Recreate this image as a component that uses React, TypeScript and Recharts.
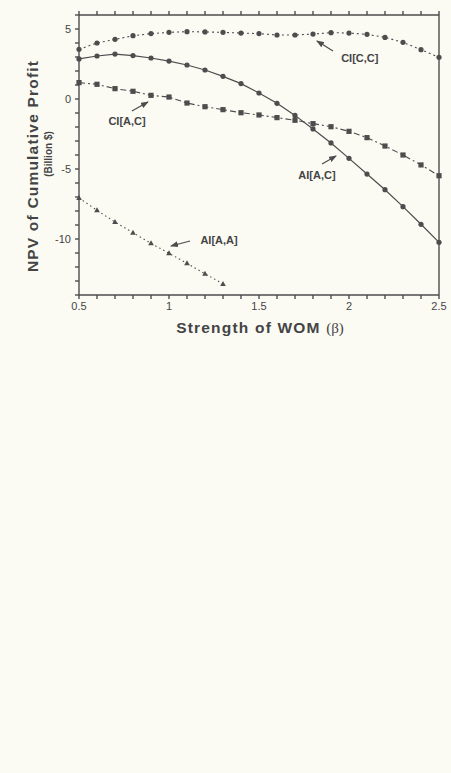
import {
  LineChart,
  Line,
  XAxis,
  YAxis,
  ReferenceLine,
  ReferenceDot,
} from 'recharts';

const beta = [0.5, 0.6, 0.7, 0.8, 0.9, 1.0, 1.1, 1.2, 1.3, 1.4, 1.5, 1.6, 1.7, 1.8, 1.9, 2.0, 2.1, 2.2, 2.3, 2.4, 2.5];
const ciCC = [3.55, 4.0, 4.26, 4.52, 4.67, 4.76, 4.81, 4.79, 4.76, 4.71, 4.67, 4.57, 4.57, 4.64, 4.74, 4.71, 4.62, 4.4, 4.05, 3.52, 2.98];
const aiAC = [2.86, 3.07, 3.21, 3.1, 2.93, 2.71, 2.43, 2.07, 1.62, 1.1, 0.43, -0.31, -1.17, -2.14, -3.14, -4.24, -5.36, -6.48, -7.69, -8.95, -10.24];
const ciAC = [1.17, 1.05, 0.74, 0.55, 0.26, 0.14, -0.29, -0.55, -0.76, -0.98, -1.14, -1.33, -1.52, -1.76, -1.98, -2.31, -2.76, -3.36, -4.0, -4.71, -5.48];
const aiAA = [-7.07, -7.95, -8.79, -9.55, -10.31, -11.02, -11.74, -12.48, -13.21];

const xTicks = beta;
const xLabels: Record<string, string> = { '0.5': '0.5', '1': '1', '1.5': '1.5', '2': '2', '2.5': '2.5' };
const yTicks = [-14, -13, -12, -11, -10, -9, -8, -7, -6, -5, -4, -3, -2, -1, 0, 1, 2, 3, 4, 5, 6];
const yLabels = [-10, -5, 0, 5];

// annotation text + arrow (tail -> head), in data units
const notes = [
  { text: 'CI[C,C]', x: 2.06, y: 2.93, from: [1.911, 3.43], to: [1.822, 4.14] },
  { text: 'CI[A,C]', x: 0.767, y: -1.57, from: [0.794, -0.86], to: [0.883, -0.21] },
  { text: 'AI[A,C]', x: 1.822, y: -5.43, from: [1.85, -4.64], to: [1.928, -4.07] },
  { text: 'AI[A,A]', x: 1.278, y: -10.07, from: [1.117, -10.14], to: [1.011, -10.5] },
];

const data = beta.map((b, i) => ({
  beta: b,
  ciCC: ciCC[i],
  aiAC: aiAC[i],
  ciAC: ciAC[i],
  aiAA: aiAA[i],
}));

const INK = '#4d4d4d';
const FONT = '"Liberation Sans", Arial, sans-serif';

const circleDot = (p: any) =>
  p.cy == null ? <g key={p.index} /> : <circle key={p.index} cx={p.cx} cy={p.cy} r={2.6} fill={INK} />;
const squareDot = (p: any) =>
  p.cy == null ? <g key={p.index} /> : <rect key={p.index} x={p.cx - 2.6} y={p.cy - 2.6} width={5.2} height={5.2} fill={INK} />;
const triDot = (p: any) =>
  p.cy == null ? (
    <g key={p.index} />
  ) : (
    <polygon key={p.index} points={`${p.cx},${p.cy - 3} ${p.cx - 2.8},${p.cy + 2} ${p.cx + 2.8},${p.cy + 2}`} fill={INK} />
  );

const arrowShape = (p: any) => (
  <line x1={p.x1} y1={p.y1} x2={p.x2} y2={p.y2} stroke={INK} strokeWidth={1.2} markerEnd="url(#arrowHead)" />
);

export default function App() {
  return (
    <div style={{ position: 'absolute', left: 0, top: 0, width: 451, height: 773, background: '#fbfbf4' }}>
      <LineChart width={451} height={773} data={data} margin={{ top: 10, right: 0, bottom: 448, left: 49 }}>
        <defs>
          <marker id="arrowHead" markerWidth="8" markerHeight="6" refX="7" refY="3" orient="auto" markerUnits="userSpaceOnUse">
            <path d="M0,0 L8,3 L0,6 z" fill={INK} />
          </marker>
        </defs>
        <XAxis
          dataKey="beta"
          type="number"
          domain={[0.5, 2.5]}
          ticks={xTicks}
          interval={0}
          tickFormatter={(v: number) => xLabels[String(Math.round(v * 10) / 10)] ?? ''}
          stroke={INK}
          strokeWidth={1.4}
          tickSize={4}
          tickMargin={3}
          height={30}
          tick={{ fill: '#444', fontSize: 11, fontFamily: FONT }}
          label={{
            content: () => (
              <text x={260} y={333} textAnchor="middle" fill="#444">
                <tspan fontFamily={FONT} fontWeight="bold" fontSize={15.5} letterSpacing={1.2}>Strength of WOM </tspan>
                <tspan fontFamily='"Liberation Serif", serif' fontSize={15}> (β)</tspan>
              </text>
            ),
          }}
        />
        <XAxis
          xAxisId="top"
          dataKey="beta"
          orientation="top"
          type="number"
          domain={[0.5, 2.5]}
          ticks={xTicks}
          interval={0}
          tickFormatter={() => ''}
          stroke={INK}
          strokeWidth={1.4}
          tickSize={4}
          height={5}
          tick={{ fontSize: 1 }}
        />
        <YAxis
          type="number"
          domain={[-14, 6]}
          ticks={yTicks}
          interval={0}
          tickFormatter={(v: number) => (yLabels.includes(v) ? String(v) : '')}
          stroke={INK}
          strokeWidth={1.4}
          tickSize={4}
          tickMargin={4}
          width={30}
          tick={{ fill: '#444', fontSize: 11, fontFamily: FONT }}
          label={{
            content: () => (
              <g fill="#444" fontFamily={FONT} fontWeight="bold">
                <text x={34} y={166} transform="rotate(-90 34 166)" textAnchor="middle" dominantBaseline="middle" fontSize={15.5} letterSpacing={1.2}>
                  NPV of Cumulative Profit
                </text>
                <text x={49} y={154} transform="rotate(-90 49 154)" textAnchor="middle" dominantBaseline="middle" fontSize={10}>
                  (Billion $)
                </text>
              </g>
            ),
          }}
        />
        <YAxis
          yAxisId="right"
          orientation="right"
          type="number"
          domain={[-14, 6]}
          ticks={yTicks}
          interval={0}
          tickFormatter={() => ''}
          stroke={INK}
          strokeWidth={1.4}
          tickSize={3}
          width={12}
        />
        <Line dataKey="ciCC" stroke={INK} strokeWidth={1.1} strokeDasharray="2 3" dot={circleDot} isAnimationActive={false} />
        <Line dataKey="aiAC" stroke={INK} strokeWidth={1.2} dot={circleDot} isAnimationActive={false} />
        <Line dataKey="ciAC" stroke={INK} strokeWidth={1.1} strokeDasharray="6 3 2 3" dot={squareDot} isAnimationActive={false} />
        <Line dataKey="aiAA" stroke={INK} strokeWidth={1.1} strokeDasharray="1.5 3" dot={triDot} isAnimationActive={false} />
        {notes.map((n) => (
          <ReferenceLine
            key={`a-${n.text}`}
            segment={[
              { x: n.from[0], y: n.from[1] },
              { x: n.to[0], y: n.to[1] },
            ]}
            shape={arrowShape}
          />
        ))}
        {notes.map((n) => (
          <ReferenceDot
            key={`t-${n.text}`}
            x={n.x}
            y={n.y}
            r={0}
            stroke="none"
            label={{ value: n.text, position: 'center', fill: '#444', fontSize: 11, fontWeight: 'bold', fontFamily: FONT }}
          />
        ))}
      </LineChart>
    </div>
  );
}
